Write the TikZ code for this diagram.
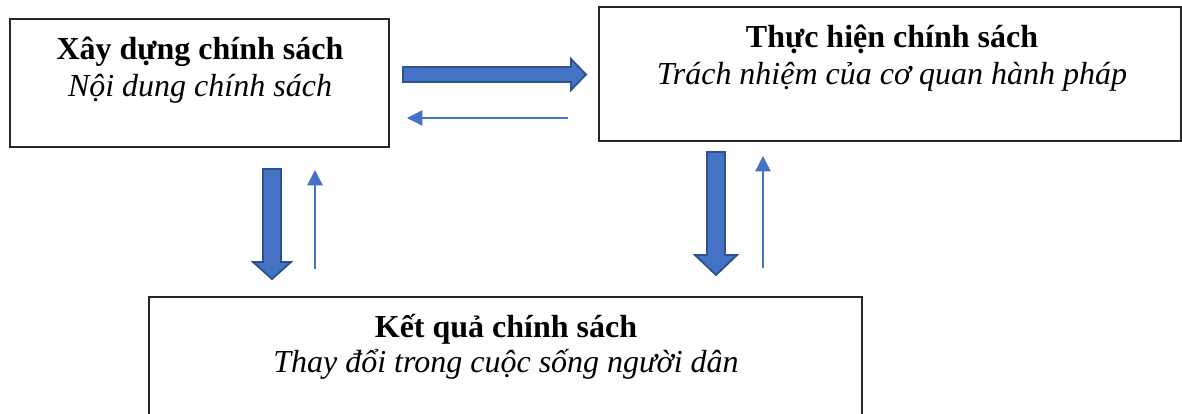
\documentclass[tikz,border=0pt]{standalone}
\usepackage{fontspec}
\setmainfont{Liberation Serif}
\usetikzlibrary{arrows.meta}
\definecolor{blockfill}{HTML}{4472C4}
\definecolor{blockline}{HTML}{2F528F}
\begin{document}
\begin{tikzpicture}[x=0.75pt,y=-0.75pt,
  frame/.style={draw=black!85,line width=1.3pt},
  title/.style={anchor=base,inner sep=0pt,font=\fontsize{24}{28}\selectfont\bfseries},
  sub/.style={anchor=base,inner sep=0pt,font=\fontsize{24}{28}\selectfont\itshape},
  blockarrow/.style={fill=blockfill,draw=blockline,line width=1.4pt,line join=miter},
  backflow/.style={draw=blockfill,line width=1pt,-{Triangle[length=11.5pt,width=11.5pt]}}]
\useasboundingbox (0,0) rectangle (1182,414);

% the three stages
\draw[frame] (10,19) rectangle (389,147);
\draw[frame] (599,7) rectangle (1181,141);
\draw[frame] (149,420) -- (149,297) -- (862,297) -- (862,420);

\node[title] (t1) at (200,59) {Xây dựng chính sách};
\node[sub]   (s1) at (200,96) {Nội dung chính sách};
\node[title] (t2) at (892,47) {Thực hiện chính sách};
\node[sub]   (s2) at (892,84) {Trách nhiệm của cơ quan hành pháp};
\node[title] (t3) at (506,337) {Kết quả chính sách};
\node[sub]   (s3) at (506,372) {Thay đổi trong cuộc sống người dân};

% main flow: block arrows
\draw[blockarrow] (403,67) -- (571,67) -- (571,59) -- (586,74.5) -- (571,90) -- (571,82) -- (403,82) -- cycle;
\draw[blockarrow] (263,169) -- (281,169) -- (281,262) -- (291,262) -- (272,279) -- (253,262) -- (263,262) -- cycle;
\draw[blockarrow] (707,152) -- (725,152) -- (725,255) -- (737,255) -- (716,275) -- (695,255) -- (707,255) -- cycle;

% feedback: thin arrows
\coordinate (f1a) at (568,118);
\coordinate (f1b) at (407,118);
\coordinate (f2a) at (315,269);
\coordinate (f2b) at (315,170);
\coordinate (f3a) at (763,268);
\coordinate (f3b) at (763,156);
\draw[backflow] (f1a) -- (f1b);
\draw[backflow] (f2a) -- (f2b);
\draw[backflow] (f3a) -- (f3b);
\end{tikzpicture}
\end{document}
